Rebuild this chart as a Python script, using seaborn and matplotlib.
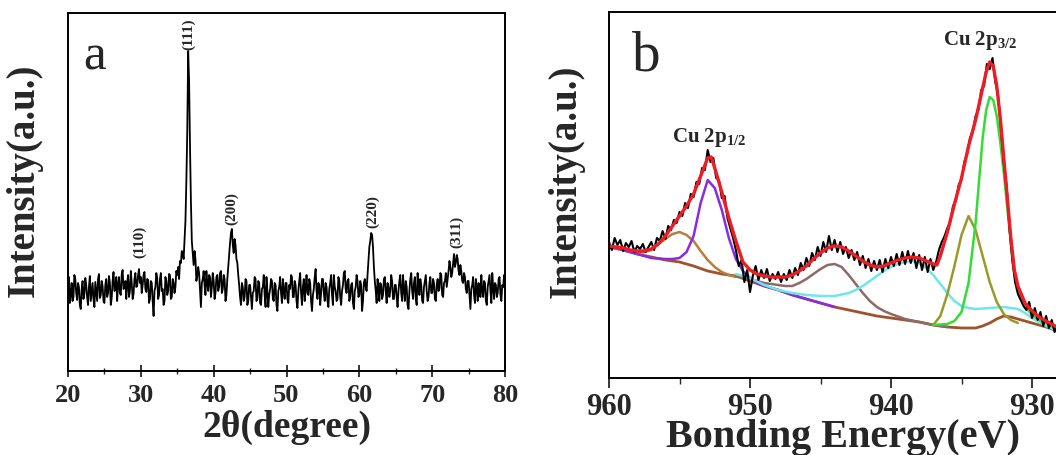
"""
    XRD pattern (a) and Cu 2p XPS fit (b)
"""
import matplotlib
matplotlib.use('Agg')
import matplotlib.pyplot as plt
import numpy as np
import pandas as pd
import seaborn as sns
from matplotlib.ticker import MultipleLocator

## ---- panel a : XRD, 20..80 deg, step 0.125 ----
xrd_start = 20.0
xrd_step = 0.125
xrd_counts = [
    80, 94, 68, 76, 88, 70, 74, 96, 92, 78, 71, 88, 84, 66, 62, 82, 90, 72, 77, 93,
    86, 74, 66, 84, 95, 70, 79, 88, 72, 64, 89, 80, 70, 92, 97, 73, 76, 90, 85, 70,
    68, 86, 92, 74, 78, 95, 88, 66, 73, 90, 99, 80, 81, 94, 70, 86, 94, 78, 76, 97,
    101, 82, 84, 90, 72, 88, 96, 74, 80, 100, 88, 72, 77, 92, 98, 84, 85, 96, 102, 88,
    94, 78, 86, 96, 99, 82, 79, 92, 91, 68, 72, 90, 88, 70, 55, 80, 84, 98, 93, 72,
    76, 92, 98, 80, 82, 66, 70, 94, 90, 76, 80, 97, 96, 72, 74, 92, 88, 78, 84, 100,
    96, 104, 92, 110, 108, 120, 118, 112, 132, 150, 190, 240, 320, 290, 225, 170, 130, 118, 106, 120,
    112, 90, 95, 104, 98, 80, 64, 88, 92, 100, 86, 76, 100, 88, 80, 96, 94, 74, 84, 98,
    90, 72, 78, 94, 96, 80, 84, 98, 100, 78, 82, 96, 92, 70, 76, 92, 104, 116, 128, 138,
    142, 126, 118, 132, 126, 112, 108, 96, 86, 74, 66, 88, 84, 70, 74, 92, 90, 66, 70, 86,
    86, 74, 62, 78, 80, 94, 92, 70, 72, 90, 88, 68, 66, 82, 84, 96, 76, 64, 94, 80,
    64, 76, 82, 92, 90, 72, 70, 88, 86, 66, 60, 80, 84, 94, 78, 68, 92, 80, 72, 88,
    88, 72, 68, 86, 82, 96, 94, 74, 74, 90, 86, 70, 63, 80, 90, 98, 78, 66, 84, 92,
    70, 82, 96, 78, 76, 92, 88, 70, 60, 76, 82, 94, 102, 80, 72, 88, 86, 66, 78, 92,
    92, 78, 70, 88, 84, 70, 64, 82, 88, 96, 76, 66, 96, 84, 80, 70, 72, 94, 90, 74,
    66, 80, 86, 98, 100, 82, 78, 90, 92, 70, 74, 86, 88, 68, 62, 80, 84, 96, 90, 74,
    76, 90, 86, 60, 70, 88, 92, 84, 80, 96, 110, 124, 130, 138, 136, 124, 104, 90, 80, 68,
    92, 84, 70, 88, 86, 72, 76, 92, 94, 80, 68, 88, 84, 74, 80, 96, 90, 72, 72, 86,
    86, 74, 64, 80, 90, 96, 78, 70, 96, 82, 70, 90, 84, 66, 62, 80, 92, 98, 80, 72,
    88, 94, 72, 66, 98, 84, 76, 92, 86, 70, 68, 84, 90, 96, 80, 70, 74, 88, 94, 78,
    78, 92, 88, 72, 70, 86, 92, 80, 82, 98, 96, 76, 74, 88, 90, 98, 84, 92, 100, 110,
    104, 94, 98, 108, 117, 104, 108, 116, 112, 100, 96, 106, 100, 90, 88, 98, 94, 82, 78, 90,
    90, 76, 62, 82, 86, 94, 76, 68, 92, 84, 70, 88, 84, 74, 96, 80, 74, 90, 88, 70,
    66, 84, 90, 96, 80, 68, 98, 84, 72, 88, 86, 74, 78, 92, 94, 76, 70, 86, 84, 96,
    80,
]
hkl_labels = ['(110)', '(111)', '(200)', '(220)', '(311)']
hkl_pos = [29.8, 36.5, 42.5, 61.8, 73.3]
hkl_height = [114, 322, 147, 144, 124]

## ---- panel b : XPS Cu 2p, 960..928 eV, step 0.2 ----
xps_start = 960.0
xps_step = 0.2
xps_raw = [
    136, 128, 140, 133, 138, 127, 135, 131, 137, 126,
    132, 129, 134, 126, 131, 136, 128, 140, 137, 147,
    139, 152, 148, 158, 155, 166, 162, 175, 170, 184,
    181, 196, 194, 210, 208, 228, 216, 220, 200, 198,
    180, 182, 160, 150, 140, 128, 112, 118, 96, 108,
    86, 102, 112, 98, 108, 100, 109, 97, 104, 99,
    106, 96, 104, 98, 108, 100, 110, 103, 115, 108,
    120, 112, 125, 118, 131, 122, 136, 126, 142, 128,
    138, 126, 136, 124, 131, 120, 128, 118, 126, 113,
    122, 110, 119, 107, 117, 108, 118, 106, 119, 110,
    121, 112, 124, 113, 126, 114, 127, 115, 125, 110,
    123, 108, 121, 106, 119, 108, 116, 128, 136, 142,
    150, 156, 172, 177, 193, 198, 216, 224, 240, 246,
    262, 268, 288, 292, 314, 309, 320, 296, 282, 248,
    214, 192, 150, 118, 96, 84, 78, 72, 68, 76,
    60, 70, 58, 66, 52, 62, 50, 58, 46, 54,
    45,
]
bg_e = [960, 959, 958, 957, 956, 955, 954, 953, 952, 951, 950, 949, 948, 947, 946, 945,
        944, 943, 942, 941, 940, 939, 938, 937, 936, 935, 934, 933.5, 933, 932.5, 932,
        931.5, 931, 930.5, 930, 929, 928]
bg_y = [131, 128, 124, 121, 118, 116, 112, 107, 104, 102, 97, 92, 88, 83, 79, 75,
        71, 68, 65, 62, 60, 58, 56, 53, 51, 50, 50, 52, 55, 59, 62,
        61, 59, 57, 55, 51, 46]
sat_e = [960, 959, 958, 957.5, 957, 956.5, 956, 955.5, 955, 954.5, 954, 953.5, 953,
         952.5, 952, 951.5, 951]
sat_y = [131, 128, 125, 126, 128, 134, 139, 144, 146, 143, 137, 127, 118,
         111, 106, 103, 101]
p12_e = [960, 959, 958, 957, 956, 955.5, 955, 954.5, 954, 953.5, 953, 952.5, 952,
         951.5, 951, 950.5, 950, 949.5, 949, 948, 947, 946, 945, 944]
p12_y = [132, 128, 124, 120, 119, 119, 120, 126, 142, 175, 198, 190, 168,
         140, 119, 107, 100, 95, 92, 88, 83, 79, 75, 71]
sh1_e = [951, 950, 949, 948.5, 948, 947.5, 947, 946.5, 946, 945.5, 945, 944.5, 944,
         943.5, 943, 942.5, 942, 941.5, 941, 940.5, 940, 939, 938, 937, 936]
sh1_y = [102, 99, 95, 94, 93, 92, 92, 95, 99, 104, 109, 113, 114,
         111, 103, 94, 85, 77, 71, 67, 64, 59, 56, 53, 51]
sh2_e = [951, 950, 949, 948, 947, 946, 945, 944, 943, 942.5, 942, 941.5, 941, 940.5,
         940, 939.5, 939, 938.5, 938, 937.5, 937, 936.5, 936, 935.5, 935, 934.5, 934,
         933, 932, 931, 930.5, 930, 929.5, 929, 928.5, 928]
sh2_y = [104, 100, 93, 88, 85, 83, 82, 82, 85, 88, 92, 97, 102, 107,
         111, 114, 116, 117, 115, 110, 103, 94, 85, 77, 72, 70, 69,
         70, 71, 69, 65, 60, 56, 52, 49, 46]
cu2_e = [937, 936.5, 936, 935.5, 935, 934.5, 934, 933.5, 933, 932.5, 932, 931.5, 931]
cu2_y = [53, 62, 84, 112, 143, 162, 148, 122, 96, 76, 64, 58, 55]
cu1_e = [937, 936, 935.5, 935, 934.5, 934.25, 934, 933.75, 933.5, 933.25, 933, 932.75,
         932.5, 932.25, 932, 931.75, 931.5, 931.25, 931, 930.5, 930, 929.5, 929, 928.5, 928]
cu1_y = [53, 54, 57, 66, 95, 125, 155, 198, 240, 268, 281, 278,
         262, 236, 205, 170, 135, 105, 88, 72, 63, 58, 55, 51, 49]
env_e = [960, 959.5, 959, 958.5, 958, 957.5, 957, 956.5, 956, 955.5, 955, 954.5, 954,
         953.5, 953, 952.75, 952.5, 952, 951.5, 951, 950.5, 950, 949.5, 949, 948.5, 948,
         947.5, 947, 946.5, 946, 945.5, 945, 944.5, 944, 943.5, 943, 942.5, 942, 941.5,
         941, 940.5, 940, 939.5, 939, 938.5, 938, 937.5, 937, 936.75, 936.5, 936, 935.5,
         935, 934.5, 934, 933.5, 933.25, 933, 932.75, 932.5, 932.25, 932, 931.75, 931.5,
         931.25, 931, 930.5, 930, 929.5, 929, 928.5, 928]
env_y = [132, 131, 130, 128, 127, 127, 129, 134, 142, 152, 162, 172, 184,
         202, 220, 221, 210, 186, 160, 137, 116, 108, 104, 102, 101, 101,
         101, 103, 107, 112, 119, 125, 130, 132, 131, 127, 122, 117, 113,
         111, 112, 115, 118, 120, 121, 120, 117, 114, 113, 122, 146, 174,
         200, 232, 258, 290, 306, 316, 312, 292, 260, 220, 180, 140,
         108, 92, 75, 67, 61, 57, 53, 49]

xrd = pd.DataFrame({'two_theta': xrd_start + xrd_step * np.arange(len(xrd_counts)),
                    'counts': xrd_counts})
xps = pd.DataFrame({'be': xps_start - xps_step * np.arange(len(xps_raw)),
                    'counts': xps_raw})

sns.set_style('ticks')
plt.rcParams['font.family'] = ['Liberation Serif', 'DejaVu Serif']
plt.rcParams['mathtext.fontset'] = 'custom'
plt.rcParams['mathtext.rm'] = 'Liberation Serif'
plt.rcParams['mathtext.bf'] = 'Liberation Serif:bold'

fig = plt.figure(figsize=(10.56, 4.56), dpi=100)
W, H = 1056., 456.
ax_a = fig.add_axes([68 / W, 1 - 372 / H, 437 / W, 358 / H])
ax_b = fig.add_axes([609 / W, 1 - 379 / H, 493.5 / W, 366 / H])

# --- a ---
sns.lineplot(data=xrd, x='two_theta', y='counts', ax=ax_a, color='black', lw=1.3)
for lab, xp, yp in zip(hkl_labels, hkl_pos, hkl_height):
    ax_a.text(xp, yp, lab, rotation=90, ha='center', va='bottom',
              fontsize=11, fontweight='bold')
ax_a.set_xlim(20, 80)
ax_a.set_ylim(0, 358)
ax_a.xaxis.set_major_locator(MultipleLocator(10))
ax_a.xaxis.set_minor_locator(MultipleLocator(5))
ax_a.tick_params(axis='x', which='major', direction='inout', length=8, width=1.3,
                 labelsize=19, pad=5)
ax_a.tick_params(axis='x', which='minor', direction='inout', length=5, width=1.0)
ax_a.set_yticks([])
ax_a.set_xlabel('2θ(degree)', fontsize=27, fontweight='bold', labelpad=2)
ax_a.set_ylabel('Intensity(a.u.)', fontsize=28, fontweight='bold')
ax_a.yaxis.set_label_coords(-0.057, 0.536)
ax_a.text(0.034, 0.844, 'a', transform=ax_a.transAxes, fontsize=37)

# --- b ---
comps = [
    (bg_e, bg_y, '#a0522d', 2.0),
    (sat_e, sat_y, '#b87d3c', 1.8),
    (p12_e, p12_y, '#8a2be2', 1.8),
    (sh1_e, sh1_y, '#8c6a6a', 1.8),
    (sh2_e, sh2_y, '#6ee6ea', 1.8),
    (cu2_e, cu2_y, '#9a9a2a', 1.8),
    (cu1_e, cu1_y, '#33dd33', 1.8),
]
for ce, cy, col, lw in comps:
    sns.lineplot(x=ce, y=cy, ax=ax_b, color=col, lw=lw)
sns.lineplot(data=xps, x='be', y='counts', ax=ax_b, color='black', lw=1.5)
sns.lineplot(x=env_e, y=env_y, ax=ax_b, color='#ee1c24', lw=2.4)

ax_b.text(955.5, 237, r'Cu 2p$_{\mathbf{1/2}}$', fontsize=15, fontweight='bold')
ax_b.text(936.3, 334, r'Cu 2p$_{\mathbf{3/2}}$', fontsize=15, fontweight='bold')
ax_b.set_xlim(960, 925)
ax_b.set_ylim(0, 366)
ax_b.xaxis.set_major_locator(MultipleLocator(10))
ax_b.xaxis.set_minor_locator(MultipleLocator(5))
ax_b.tick_params(axis='x', which='major', direction='out', length=7, width=1.3,
                 labelsize=22, pad=3)
ax_b.tick_params(axis='x', which='minor', direction='out', length=4, width=1.0)
ax_b.set_yticks([])
ax_b.set_xlabel('Bonding Energy(eV)', fontsize=29, fontweight='bold')
ax_b.xaxis.set_label_coords(0.475, -0.11)
ax_b.set_ylabel('Intensity(a.u.)', fontsize=28, fontweight='bold')
ax_b.yaxis.set_label_coords(-0.049, 0.54)
ax_b.text(0.047, 0.844, 'b', transform=ax_b.transAxes, fontsize=41)

for ax in (ax_a, ax_b):
    for sp in ax.spines.values():
        sp.set_linewidth(1.4)
        sp.set_color('black')
    for t in ax.get_xticklabels():
        t.set_fontweight('bold')

fig.savefig('out.png', dpi=100)
